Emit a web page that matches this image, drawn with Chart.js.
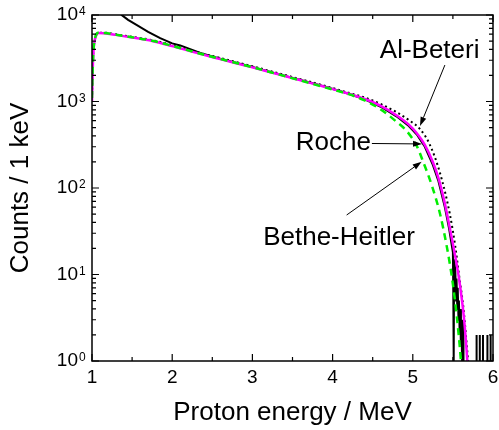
<!DOCTYPE html>
<html>
<head>
<meta charset="utf-8">
<script src="https://cdn.jsdelivr.net/npm/chart.js@4.4.1/dist/chart.umd.min.js"></script>
<style>
  html, body { margin: 0; padding: 0; background: #fff; }
  canvas { display: block; }
</style>
</head>
<body>
<canvas id="spectrum" width="499" height="430"></canvas>
<script>
// Ticks
const xTicks = [1, 2, 3, 4, 5, 6];
const xMinorTicks = [1.5, 2.5, 3.5, 4.5, 5.5];
const yDecades = [0, 1, 2, 3, 4];

// Roche (magenta)
const rocheE = [1.00, 1.01, 1.02, 1.04, 1.06, 1.08, 1.15, 1.3, 1.5, 1.75, 2.0, 2.35, 2.6, 3.0, 3.3, 3.6, 3.9, 4.2, 4.4, 4.6, 4.8, 4.95, 5.05, 5.15, 5.25, 5.32, 5.4, 5.46, 5.52, 5.58, 5.64, 5.68, 5.70];
const rocheCounts = [1000, 2500, 4000, 5400, 6000, 6200, 6160, 5890, 5500, 5010, 4370, 3550, 3090, 2480, 2090, 1760, 1480, 1230, 1070, 890, 690, 540, 430, 316, 200, 130, 66, 35, 18, 8.5, 3, 1, 0.5];

// Bethe-Heitler (green dashed)
const betheE = [1.00, 1.01, 1.02, 1.04, 1.06, 1.08, 1.15, 1.3, 1.5, 1.75, 2.0, 2.35, 2.6, 3.0, 3.3, 3.6, 3.9, 4.2, 4.4, 4.6, 4.8, 4.92, 5.05, 5.13, 5.24, 5.34, 5.42, 5.49, 5.55, 5.60, 5.62];
const betheCounts = [1100, 2600, 4100, 5500, 6100, 6250, 6200, 5920, 5530, 5040, 4400, 3570, 3100, 2490, 2090, 1750, 1460, 1215, 1030, 810, 580, 460, 305, 200, 105, 50, 22, 9, 3.2, 1, 0.5];

// Al-Beteri (black dotted)
const alBeteriE = [1.00, 1.01, 1.02, 1.04, 1.06, 1.08, 1.15, 1.3, 1.5, 1.75, 2.0, 2.35, 2.6, 3.0, 3.3, 3.6, 3.9, 4.2, 4.4, 4.6, 4.8, 4.95, 5.09, 5.21, 5.34, 5.46, 5.53, 5.58, 5.63, 5.69, 5.72];
const alBeteriCounts = [1050, 2550, 4050, 5450, 6050, 6250, 6250, 5980, 5600, 5120, 4480, 3640, 3180, 2550, 2150, 1810, 1520, 1260, 1110, 935, 750, 610, 480, 320, 148, 51, 21, 9.3, 4.2, 1, 0.5];

// Measured spectrum (black solid), 0.1 = empty channel below the axis
const measuredE = [1.25, 1.37, 1.45, 1.56, 1.7, 1.85, 2.0, 2.1, 2.35, 2.6, 3.0, 3.3, 3.6, 3.9, 4.2, 4.4, 4.6, 4.8, 4.95, 5.05, 5.15, 5.25, 5.32, 5.4, 5.45, 5.50,
  5.505, 5.51, 5.515, 5.53, 5.54, 5.545, 5.555, 5.56, 5.57, 5.575, 5.585, 5.59, 5.60, 5.605, 5.615, 5.62, 5.63, 5.632,
  5.794, 5.795, 5.796, 5.834, 5.835, 5.836, 5.874, 5.875, 5.876, 5.929, 5.930, 5.931, 5.969, 5.970, 5.971];
const measuredCounts = [16000, 10000, 8800, 7650, 6400, 5400, 4700, 4450, 3650, 3120, 2500, 2100, 1770, 1490, 1230, 1060, 870, 670, 520, 415, 300, 185, 120, 60, 35, 18,
  6, 1, 15, 11, 5, 9, 4, 7, 3, 5, 2, 4, 1.5, 3, 1, 2, 3, 0.1,
  0.1, 2, 0.1, 0.1, 2, 0.1, 0.1, 2, 0.1, 0.1, 2, 0.1, 0.1, 2, 0.1];

const FONT = "'Liberation Sans', Arial, sans-serif";

function toPoints(xs, ys) {
    return xs.map((x, i) => ({ x: x, y: ys[i] }));
}

// Frame, inward ticks, labels, titles and arrows
const framePlugin = {
    id: 'frame',
    afterDraw(chart) {
        const ctx = chart.ctx;
        const a = chart.chartArea;
        const xs = chart.scales.x;
        const ys = chart.scales.y;
        ctx.save();
        ctx.strokeStyle = '#000';
        ctx.fillStyle = '#000';
        ctx.lineWidth = 1.5;
        ctx.strokeRect(a.left, a.top, a.right - a.left, a.bottom - a.top);

        ctx.lineWidth = 1.2;
        ctx.beginPath();
        xTicks.concat(xMinorTicks).forEach(v => {
            const len = xTicks.includes(v) ? 7 : 4;
            const px = xs.getPixelForValue(v);
            ctx.moveTo(px, a.bottom); ctx.lineTo(px, a.bottom - len);
            ctx.moveTo(px, a.top); ctx.lineTo(px, a.top + len);
        });
        yDecades.forEach(d => {
            for (let m = 1; m <= 9; m++) {
                if (d === 4 && m > 1) break;
                const len = m === 1 ? 7 : 4;
                const py = ys.getPixelForValue(m * Math.pow(10, d));
                ctx.moveTo(a.left, py); ctx.lineTo(a.left + len, py);
                ctx.moveTo(a.right, py); ctx.lineTo(a.right - len, py);
            }
        });
        ctx.stroke();

        // tick labels
        ctx.font = '19px ' + FONT;
        ctx.textAlign = 'center';
        ctx.textBaseline = 'middle';
        xTicks.forEach(v => ctx.fillText(String(v), xs.getPixelForValue(v), a.bottom + 17));

        yDecades.forEach(d => {
            const py = ys.getPixelForValue(Math.pow(10, d));
            ctx.font = '19px ' + FONT;
            ctx.textAlign = 'right';
            ctx.textBaseline = 'middle';
            ctx.fillText('10', a.left - 14, py);
            ctx.font = '12px ' + FONT;
            ctx.textAlign = 'left';
            ctx.textBaseline = 'alphabetic';
            ctx.fillText(String(d), a.left - 13, py);
        });

        // axis titles
        ctx.font = '26px ' + FONT;
        ctx.textAlign = 'center';
        ctx.textBaseline = 'middle';
        ctx.fillText('Proton energy / MeV', (a.left + a.right) / 2, 413);
        ctx.save();
        ctx.translate(21, (a.top + a.bottom) / 2);
        ctx.rotate(-Math.PI / 2);
        ctx.fillText('Counts / 1 keV', 0, 0);
        ctx.restore();

        // annotations with arrows
        const notes = [
            { text: 'Al-Beteri', at: [5.21, 3900], from: [5.40, 2640], to: [5.09, 521] },
            { text: 'Roche', at: [4.01, 330], from: [4.49, 327], to: [5.115, 323] },
            { text: 'Bethe-Heitler', at: [4.08, 26.5], from: [4.175, 48.7], to: [5.11, 201] }
        ];
        notes.forEach(n => {
            ctx.font = '26px ' + FONT;
            ctx.textAlign = 'center';
            ctx.textBaseline = 'middle';
            ctx.fillText(n.text, xs.getPixelForValue(n.at[0]), ys.getPixelForValue(n.at[1]));
            const x0 = xs.getPixelForValue(n.from[0]), y0 = ys.getPixelForValue(n.from[1]);
            const x1 = xs.getPixelForValue(n.to[0]), y1 = ys.getPixelForValue(n.to[1]);
            const ang = Math.atan2(y1 - y0, x1 - x0);
            const hl = 9, hw = 3;
            ctx.lineWidth = 1;
            ctx.beginPath();
            ctx.moveTo(x0, y0);
            ctx.lineTo(x1 - hl * Math.cos(ang), y1 - hl * Math.sin(ang));
            ctx.stroke();
            ctx.beginPath();
            ctx.moveTo(x1, y1);
            ctx.lineTo(x1 - hl * Math.cos(ang) + hw * Math.sin(ang), y1 - hl * Math.sin(ang) - hw * Math.cos(ang));
            ctx.lineTo(x1 - hl * Math.cos(ang) - hw * Math.sin(ang), y1 - hl * Math.sin(ang) + hw * Math.cos(ang));
            ctx.closePath();
            ctx.fill();
        });
        ctx.restore();
    }
};

// Espectro de protones
const spectrumChart = new Chart(document.getElementById('spectrum'), {
    type: 'line',
    data: {
        datasets: [
            {
                label: 'Bethe-Heitler',
                data: toPoints(betheE, betheCounts),
                borderColor: '#00ee00',
                borderWidth: 2.5,
                borderDash: [7, 5],
                cubicInterpolationMode: 'monotone'
            },
            {
                label: 'Roche',
                data: toPoints(rocheE, rocheCounts),
                borderColor: '#ff00ff',
                borderWidth: 2.5,
                cubicInterpolationMode: 'monotone'
            },
            {
                label: 'Al-Beteri',
                data: toPoints(alBeteriE, alBeteriCounts),
                borderColor: '#000',
                borderWidth: 2,
                borderDash: [2, 3],
                cubicInterpolationMode: 'monotone'
            },
            {
                label: 'Measured',
                data: toPoints(measuredE, measuredCounts),
                borderColor: '#000',
                borderWidth: 2,
                tension: 0
            }
        ]
    },
    options: {
        responsive: false,
        animation: false,
        elements: { point: { radius: 0 } },
        layout: { padding: { left: 92, right: 6, top: 15, bottom: 69 } },
        scales: {
            x: { type: 'linear', min: 1, max: 6, display: false },
            y: { type: 'logarithmic', min: 1, max: 10000, display: false }
        },
        plugins: {
            legend: { display: false },
            tooltip: { enabled: false }
        }
    },
    plugins: [framePlugin]
});
</script>
</body>
</html>
